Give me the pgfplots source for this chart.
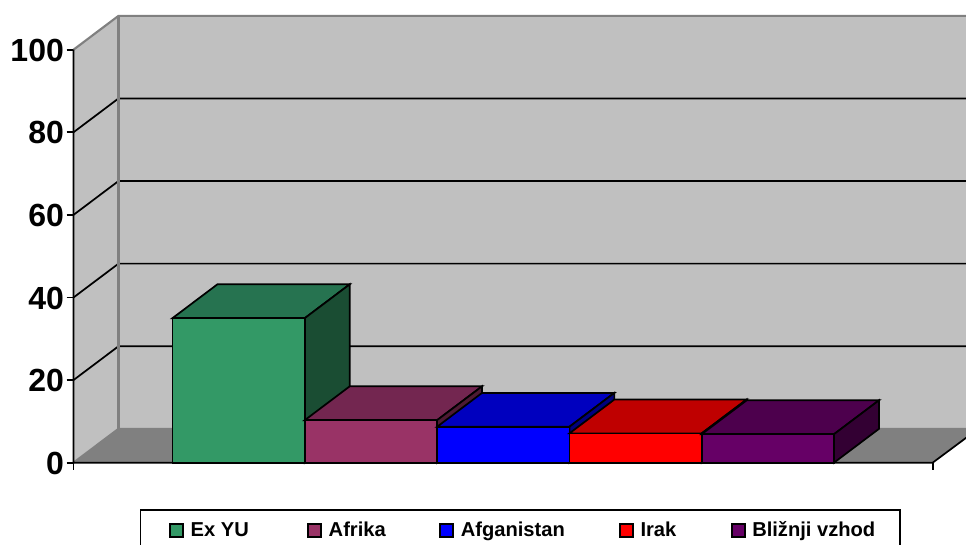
\documentclass[border=0pt]{standalone}
\usepackage{pgfplots}
\pgfplotsset{compat=1.18}
\usepackage{fontspec}
\setmainfont{Liberation Sans}
\definecolor{wall}{HTML}{C0C0C0}
\definecolor{floorc}{HTML}{808080}
\definecolor{aF}{HTML}{339966}\definecolor{aT}{HTML}{267350}\definecolor{aS}{HTML}{1A4D33}
\definecolor{bF}{HTML}{993366}\definecolor{bT}{HTML}{732650}\definecolor{bS}{HTML}{4D1A33}
\definecolor{cF}{HTML}{0000FF}\definecolor{cT}{HTML}{0000BF}\definecolor{cS}{HTML}{000080}
\definecolor{dF}{HTML}{FF0000}\definecolor{dT}{HTML}{BF0000}\definecolor{dS}{HTML}{800000}
\definecolor{eF}{HTML}{660066}\definecolor{eT}{HTML}{4D004D}\definecolor{eS}{HTML}{330033}
\begin{document}
\begin{tikzpicture}
\useasboundingbox (0,0) rectangle (724.5pt,408.75pt);
\begin{axis}[
  at={(55.125pt,61.725pt)}, anchor=south west,
  scale only axis, width=669.375pt, height=335.4pt,
  xmin=-0.7483, xmax=5.998, ymin=0, ymax=108.28,
  clip=false,
  axis line style={draw=none},
  xtick={-0.7483,5.746}, xticklabels={,,},
  ytick={0,20,40,60,80,100},
  xtick pos=bottom, ytick pos=left,
  tick align=outside, major tick length=5.2pt,
  tick style={black,line width=1.3pt},
  /pgf/number format/assume math mode=true,
  yticklabel style={font=\fontsize{24pt}{26pt}\selectfont\bfseries, xshift=1.5pt, yshift=-0.5pt},
  legend columns=5,
  legend style={at={(0.0742,-0.1035)}, anchor=north west, draw=black, line width=1.3pt,
    font=\fontsize{15.1pt}{18pt}\selectfont\bfseries, inner xsep=21.5pt, inner ysep=7pt,
    cells={anchor=west}, /tikz/every node/.append style={line width=0.4pt}},
  legend image code/.code={\draw[#1,line width=1.3pt] (0pt,-4.9pt) rectangle (9.75pt,4.9pt);},
  every axis plot/.append style={line width=1.3pt, line join=miter},
]
% walls and floor
\addplot[forget plot, fill=wall, draw=none] coordinates {(-0.408,8.2)(6.09,8.2)(6.09,108.2)(-0.408,108.2)} -- cycle;
\addplot[forget plot, fill=wall, draw=none] coordinates {(-0.7483,0)(-0.408,8.2)(-0.408,108.2)(-0.7483,100)} -- cycle;
\addplot[forget plot, fill=floorc, draw=none] coordinates {(-0.7483,0)(5.746,0)(6.09,8.2)(-0.408,8.2)} -- cycle;
% gridlines
\addplot[forget plot, black] coordinates {(-0.7483,20)(-0.408,28.2)(6.09,28.2)};
\addplot[forget plot, black] coordinates {(-0.7483,40)(-0.408,48.2)(6.09,48.2)};
\addplot[forget plot, black] coordinates {(-0.7483,60)(-0.408,68.2)(6.09,68.2)};
\addplot[forget plot, black] coordinates {(-0.7483,80)(-0.408,88.2)(6.09,88.2)};
\addplot[forget plot, floorc, line width=1.6pt] coordinates {(-0.7483,100)(-0.408,108.2)(6.09,108.2)};
\addplot[forget plot, floorc, line width=1.6pt] coordinates {(-0.7483,0)(-0.408,8.2)(6.09,8.2)};
\addplot[forget plot, floorc, line width=1.6pt] coordinates {(-0.408,8.2)(-0.408,108.2)};
% axis lines
\addplot[forget plot, black] coordinates {(-0.7483,100)(-0.7483,0)(5.746,0)(6.09,8.2)};
% bars
\addplot[forget plot, fill=aT, draw=black] coordinates {(0,35)(1,35)(1.34,43.2)(0.34,43.2)} -- cycle;
\addplot[forget plot, fill=aS, draw=black] coordinates {(1,0)(1.34,8.2)(1.34,43.2)(1,35)} -- cycle;
\addplot[fill=aF, draw=black] coordinates {(0,0)(1,0)(1,35)(0,35)} -- cycle;
\addlegendentry{\hspace*{3pt}\makebox[85.5pt][l]{Ex YU}}
\addplot[forget plot, fill=bT, draw=black] coordinates {(1,10.3)(2,10.3)(2.34,18.5)(1.34,18.5)} -- cycle;
\addplot[forget plot, fill=bS, draw=black] coordinates {(2,0)(2.34,8.2)(2.34,18.5)(2,10.3)} -- cycle;
\addplot[fill=bF, draw=black] coordinates {(1,0)(2,0)(2,10.3)(1,10.3)} -- cycle;
\addlegendentry{\hspace*{3pt}\makebox[81pt][l]{Afrika}}
\addplot[forget plot, fill=cT, draw=black] coordinates {(2,8.7)(3,8.7)(3.34,16.9)(2.34,16.9)} -- cycle;
\addplot[forget plot, fill=cS, draw=black] coordinates {(3,0)(3.34,8.2)(3.34,16.9)(3,8.7)} -- cycle;
\addplot[fill=cF, draw=black] coordinates {(2,0)(3,0)(3,8.7)(2,8.7)} -- cycle;
\addlegendentry{\hspace*{3pt}\makebox[116.75pt][l]{Afganistan}}
\addplot[forget plot, fill=dT, draw=black] coordinates {(3,7.1)(4,7.1)(4.34,15.3)(3.34,15.3)} -- cycle;
\addplot[forget plot, fill=dS, draw=black] coordinates {(4,0)(4.34,8.2)(4.34,15.3)(4,7.1)} -- cycle;
\addplot[fill=dF, draw=black] coordinates {(3,0)(4,0)(4,7.1)(3,7.1)} -- cycle;
\addlegendentry{\hspace*{3pt}\makebox[65.75pt][l]{Irak}}
\addplot[forget plot, fill=eT, draw=black] coordinates {(4,6.9)(5,6.9)(5.34,15.1)(4.34,15.1)} -- cycle;
\addplot[forget plot, fill=eS, draw=black] coordinates {(5,0)(5.34,8.2)(5.34,15.1)(5,6.9)} -- cycle;
\addplot[fill=eF, draw=black] coordinates {(4,0)(5,0)(5,6.9)(4,6.9)} -- cycle;
\addlegendentry{\hspace*{3pt}Bližnji vzhod\hspace*{-5pt}}
\end{axis}
\end{tikzpicture}
\end{document}
